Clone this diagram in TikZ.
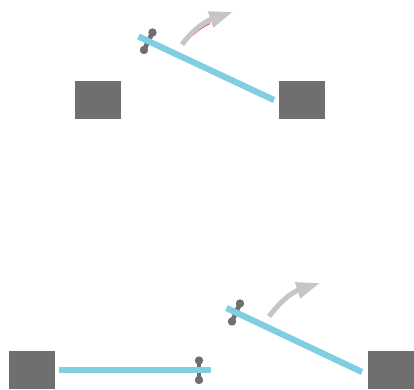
\documentclass[tikz,border=0pt]{standalone}
\usepackage{tikz}
\usetikzlibrary{arrows.meta,positioning,calc}
\definecolor{padgray}{HTML}{6F6F70}
\definecolor{bladeblue}{HTML}{7FCEE2}
\definecolor{swinggray}{HTML}{C6C6C6}
\definecolor{tracered}{HTML}{E8606A}

\begin{document}
\begin{tikzpicture}[
    x=1pt, y=-1pt,
    pad/.style={rectangle, fill=padgray, minimum width=46pt, minimum height=38pt, inner sep=0pt},
    pin/.style={circle, fill=padgray, minimum size=8.4pt, inner sep=0pt},
    pinbar/.style={draw=padgray, line width=4.6pt},
    blade/.style={draw=bladeblue, line width=6.2pt},
    swing/.style={draw=swinggray, line width=5pt, -{Triangle[length=23.7pt,width=15.8pt,fill=swinggray]}},
    trace/.style={draw=tracered, line width=1.2pt}
]
\useasboundingbox (0,0) rectangle (414,389);

% upper switch
\node[pad] (padA) at (98,100) {};
\node[pad] (padB) at (302,100) {};
\node[pin] (pinAtop) at (152.5,32.5) {};
\node[pin] (pinAbot) at (144,50) {};
\coordinate (bladeAstart) at (138.5,36.5);
\coordinate (bladeAend) at (274,100);
\coordinate (swingAstart) at (182,44.5);
\coordinate (swingAend) at (233,12);
\coordinate (traceAstart) at (193,35);
\coordinate (traceAend) at (210,23.5);
\draw[pinbar] (pinAtop.center) -- (pinAbot.center);
\draw[blade] (bladeAstart) -- (bladeAend);
\draw[trace] (traceAstart) to[bend left=8] (traceAend);
\draw[swing] (swingAstart) .. controls (191,32) and (204,21.7) .. (swingAend);

% lower switch
\node[pad] (padC) at (32,370) {};
\node[pad] (padD) at (391,370) {};
\node[pin] (pinBtop) at (199,360.5) {};
\node[pin] (pinBbot) at (199,380) {};
\coordinate (bladeBstart) at (59,370);
\coordinate (bladeBend) at (211,370);
\node[pin] (pinCtop) at (240,303.5) {};
\node[pin] (pinCbot) at (232,321.5) {};
\coordinate (bladeCstart) at (226.5,308);
\coordinate (bladeCend) at (362,372);
\coordinate (swingCstart) at (269,316.5);
\coordinate (swingCend) at (320,283);
\draw[pinbar] (pinBtop.center) -- (pinBbot.center);
\draw[blade] (bladeBstart) -- (bladeBend);
\draw[pinbar] (pinCtop.center) -- (pinCbot.center);
\draw[blade] (bladeCstart) -- (bladeCend);
\draw[swing] (swingCstart) .. controls (278,304) and (291,292.5) .. (swingCend);
\end{tikzpicture}
\end{document}
